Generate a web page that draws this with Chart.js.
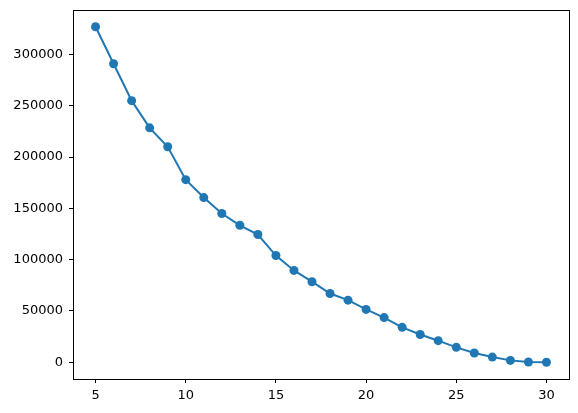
<!DOCTYPE html>
<html>
<head>
<meta charset="utf-8">
<script src="https://cdn.jsdelivr.net/npm/chart.js@4"></script>
<style>
  html, body { margin: 0; padding: 0; background: #ffffff; }
  canvas { display: block; }
</style>
</head>
<body>
<canvas id="chart" width="578" height="413"></canvas>
<script>
const xValues = [5, 6, 7, 8, 9, 10, 11, 12, 13, 14, 15, 16, 17, 18, 19, 20, 21, 22, 23, 24, 25, 26, 27, 28, 29, 30];
const yValues = [327000, 291000, 255000, 228500, 210000, 178000, 160500, 145000, 133500, 124500, 104000, 89500, 78500, 67000, 60500, 51500, 43500, 34000, 27000, 21000, 14500, 9000, 5000, 1800, 200, 0];
const xTicks = [5, 10, 15, 20, 25, 30];
const yTicks = [0, 50000, 100000, 150000, 200000, 250000, 300000];

Chart.defaults.font.family = "'DejaVu Sans', sans-serif";
Chart.defaults.font.size = 13;
Chart.defaults.color = "#000000";

// black box round the plot area, like the spines
const framePlugin = {
  id: "frame",
  afterDraw(chart) {
    const { ctx, chartArea } = chart;
    ctx.save();
    ctx.strokeStyle = "#000000";
    ctx.lineWidth = 1;
    ctx.strokeRect(
      Math.round(chartArea.left) + 0.5,
      Math.round(chartArea.top) + 0.5,
      Math.round(chartArea.right - chartArea.left),
      Math.round(chartArea.bottom - chartArea.top)
    );
    ctx.restore();
  },
};

const tickGrid = {
  display: true,
  drawOnChartArea: false,
  drawTicks: true,
  tickLength: 4,
  tickColor: "#000000",
  color: "#000000",
  lineWidth: 1,
};

new Chart(document.getElementById("chart"), {
  type: "line",
  data: {
    datasets: [
      {
        data: xValues.map((x, i) => ({ x, y: yValues[i] })),
        borderColor: "#1f77b4",
        backgroundColor: "#1f77b4",
        borderWidth: 2,
        pointRadius: 4.5,
        pointBorderWidth: 0,
        pointBackgroundColor: "#1f77b4",
        tension: 0,
        fill: false,
      },
    ],
  },
  options: {
    responsive: false,
    animation: false,
    layout: {
      padding: { top: 10, right: 9, left: 0, bottom: 0 },
    },
    plugins: {
      legend: { display: false },
      tooltip: { enabled: false },
    },
    scales: {
      x: {
        type: "linear",
        min: 3.75,
        max: 31.25,
        afterBuildTicks(scale) {
          scale.ticks = xTicks.map(v => ({ value: v }));
        },
        afterFit(scale) {
          scale.height = 34;
          scale.paddingLeft = 0;
          scale.paddingRight = 0;
        },
        ticks: {
          padding: 5,
          maxRotation: 0,
          callback: v => String(v),
        },
        grid: tickGrid,
        border: { display: false },
      },
      y: {
        min: -16350,
        max: 343350,
        afterBuildTicks(scale) {
          scale.ticks = yTicks.map(v => ({ value: v }));
        },
        afterFit(scale) {
          scale.width = 73;
          scale.paddingTop = 0;
          scale.paddingBottom = 0;
        },
        ticks: {
          padding: 6,
          callback: v => String(v),
        },
        grid: tickGrid,
        border: { display: false },
      },
    },
  },
  plugins: [framePlugin],
});
</script>
</body>
</html>
